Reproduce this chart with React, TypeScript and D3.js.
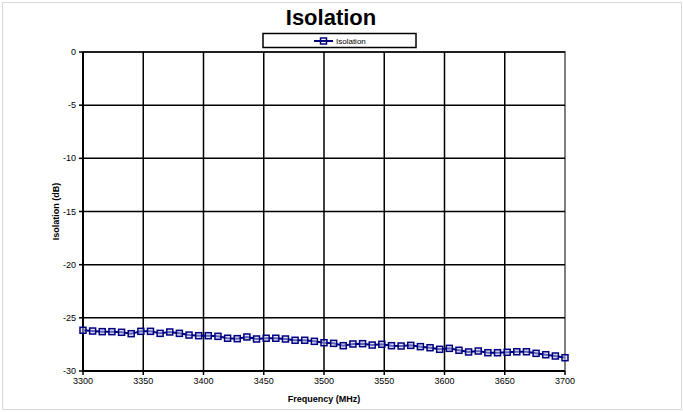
import React from "react";
import * as d3 from "d3";

const freqStart = 3300;
const freqStep = 8;
const isolation: number[] = [
  -26.17, -26.24, -26.30, -26.30, -26.36, -26.49, -26.27, -26.27, -26.46, -26.33, -26.46, -26.62, -26.68,
  -26.68, -26.74, -26.92, -26.96, -26.80, -26.99, -26.92, -26.92, -26.99, -27.11, -27.11, -27.21,
  -27.34, -27.40, -27.62, -27.46, -27.43, -27.56, -27.49, -27.62, -27.65, -27.59, -27.71, -27.81, -27.96,
  -27.87, -28.05, -28.21, -28.12, -28.28, -28.28, -28.24, -28.19, -28.19, -28.34, -28.47, -28.59, -28.75,
];
const frequencies: number[] = isolation.map((_, i) => freqStart + i * freqStep);
const xTicks: number[] = [3300, 3350, 3400, 3450, 3500, 3550, 3600, 3650, 3700];
const yTicks: number[] = [0, -5, -10, -15, -20, -25, -30];
const title = "Isolation";
const seriesName = "Isolation";
const xLabel = "Frequency (MHz)";
const yLabel = "Isolation (dB)";

export default function App() {
  const W = 683, H = 413;
  const left = 83, right = 565, top = 52, bottom = 371;
  const x = d3.scaleLinear().domain([3300, 3700]).range([left, right]);
  const y = d3.scaleLinear().domain([-30, 0]).range([bottom, top]);
  const data = frequencies.map((f, i) => [f, isolation[i]] as [number, number]);
  const line = d3.line<[number, number]>().x(d => x(d[0])).y(d => y(d[1]));
  const navy = "#000080";
  const font = "Liberation Sans, Arial, sans-serif";
  return (
    <svg width={W} height={H} style={{ position: "absolute", left: 0, top: 0, display: "block" }} fontFamily={font}>
      <rect x={0} y={0} width={W} height={H} fill="#fff" />
      <rect x={2.5} y={2.5} width={679} height={407} fill="#fff" stroke="#d9d9d9" strokeWidth={1} />
      <text x={331} y={25} textAnchor="middle" fontSize={22} fontWeight="bold">{title}</text>
      {/* legend */}
      <rect x={263} y={33.5} width={153} height={14} fill="#fff" stroke="#000" strokeWidth={1.5} />
      <line x1={314} x2={333} y1={41} y2={41} stroke={navy} strokeWidth={2} />
      <rect x={320.5} y={38} width={6} height={6} fill="none" stroke={navy} strokeWidth={1.5} />
      <text x={336} y={44} fontSize={8}>{seriesName}</text>
      {/* plot area border */}
      <rect x={left} y={top} width={right - left} height={bottom - top} fill="#fff" stroke="#808080" strokeWidth={2} />
      {/* grid */}
      {yTicks.map(t => (
        <line key={"gy" + t} x1={left} x2={right} y1={y(t)} y2={y(t)} stroke="#000" strokeWidth={1.5} />
      ))}
      {xTicks.slice(1, -1).map(t => (
        <line key={"gx" + t} x1={x(t)} x2={x(t)} y1={top} y2={bottom} stroke="#000" strokeWidth={1.5} />
      ))}
      {/* axes */}
      <line x1={left} x2={left} y1={top} y2={bottom} stroke="#000" strokeWidth={2} />
      <line x1={left} x2={right} y1={bottom} y2={bottom} stroke="#000" strokeWidth={2} />
      {yTicks.map(t => (
        <g key={"ty" + t}>
          <line x1={left - 4} x2={left} y1={y(t)} y2={y(t)} stroke="#000" strokeWidth={1.5} />
          <text x={left - 7} y={y(t) + 3} textAnchor="end" fontSize={9}>{t}</text>
        </g>
      ))}
      {xTicks.map(t => (
        <g key={"tx" + t}>
          <line x1={x(t)} x2={x(t)} y1={bottom} y2={bottom + 4} stroke="#000" strokeWidth={1.5} />
          <text x={x(t)} y={bottom + 13} textAnchor="middle" fontSize={9}>{t}</text>
        </g>
      ))}
      <text x={(left + right) / 2} y={402} textAnchor="middle" fontSize={9} fontWeight="bold">{xLabel}</text>
      <text transform={`translate(59,${(top + bottom) / 2}) rotate(-90)`} textAnchor="middle" fontSize={9} fontWeight="bold">{yLabel}</text>
      {/* series */}
      <path d={line(data) || ""} fill="none" stroke={navy} strokeWidth={2} />
      {data.map((d, i) => (
        <rect key={"m" + i} x={x(d[0]) - 3} y={y(d[1]) - 3} width={6} height={6} fill="#c8c8e8" fillOpacity={0.5} stroke={navy} strokeWidth={1.5} />
      ))}
    </svg>
  );
}
